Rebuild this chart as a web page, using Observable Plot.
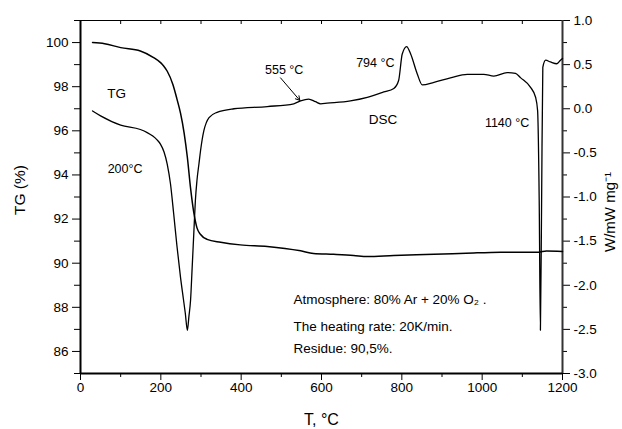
<!DOCTYPE html>
<html>
<head>
<meta charset="utf-8">
<script src="https://cdn.jsdelivr.net/npm/d3@7"></script>
<script src="https://cdn.jsdelivr.net/npm/@observablehq/plot@0.6"></script>
<style>
  html, body { margin: 0; padding: 0; background: #fff; }
</style>
</head>
<body>
<div id="chart"></div>
<script>
// ---- TG curve (left axis, %) ----
const tgT = [30, 60, 100, 149, 182, 200, 207, 216, 230, 240, 249, 258, 266, 274, 282, 290, 299, 315, 349, 398, 465, 548, 580, 630, 680, 714, 780, 880, 960, 1046, 1100, 1140, 1160, 1200];
const tgV = [100.0, 99.95, 99.77, 99.62, 99.32, 99.08, 98.94, 98.7, 98.1, 97.45, 96.8, 95.9, 94.8, 93.4, 92.3, 91.6, 91.3, 91.08, 90.95, 90.83, 90.76, 90.56, 90.44, 90.4, 90.35, 90.3, 90.35, 90.4, 90.45, 90.5, 90.5, 90.5, 90.55, 90.53];

// ---- DSC curve (right axis, W/mW mg^-1) ----
const dscT = [30, 50, 100, 149, 166, 180, 190, 199, 208, 216, 224, 232, 240, 249, 256, 261, 266, 270, 274, 278, 282, 286, 290, 295, 299, 307, 313, 320, 340, 382, 465, 531, 548, 568, 585, 598, 614, 672, 714, 755, 780, 792, 801, 812, 822, 838, 851, 880, 921, 963, 1004, 1029, 1062, 1083, 1096, 1120, 1133, 1138, 1142, 1145, 1148, 1151, 1158, 1170, 1186, 1195, 1200];
const dscV = [-0.025, -0.08, -0.185, -0.235, -0.27, -0.31, -0.35, -0.40, -0.49, -0.63, -0.85, -1.19, -1.55, -1.91, -2.15, -2.32, -2.51, -2.35, -2.17, -1.80, -1.42, -1.04, -0.81, -0.62, -0.47, -0.25, -0.16, -0.10, -0.04, 0.0, 0.025, 0.056, 0.09, 0.11, 0.08, 0.056, 0.063, 0.09, 0.13, 0.19, 0.23, 0.32, 0.62, 0.705, 0.62, 0.40, 0.27, 0.30, 0.35, 0.39, 0.39, 0.37, 0.41, 0.40, 0.35, 0.245, 0.13, -0.02, -1.04, -2.51, -1.04, 0.47, 0.55, 0.53, 0.51, 0.55, 0.57];

// ---- axes ----
const xTicks = [0, 200, 400, 600, 800, 1000, 1200];
const xMinor = [100, 300, 500, 700, 900, 1100];
const xAll = [0, 100, 200, 300, 400, 500, 600, 700, 800, 900, 1000, 1100, 1200];
const leftTicks = [86, 88, 90, 92, 94, 96, 98, 100];
const leftMinor = [85, 87, 89, 91, 93, 95, 97, 99, 101];
const rightTicks = [-3.0, -2.5, -2.0, -1.5, -1.0, -0.5, 0.0, 0.5, 1.0];
const rightMinor = [-2.75, -2.25, -1.75, -1.25, -0.75, -0.25, 0.25, 0.75];
const leftDomain = [85, 101];
const rightDomain = [-3, 1];

// ---- labels ----
const xLabel = "T, °C";
const leftLabel = "TG (%)";
const rightLabel = "W/mW mg⁻¹";
const curveLabels = [
  {text: "TG", x: 90, y: 97.67, size: 13.5},
  {text: "200°C", x: 111, y: 94.26, size: 12.5},
  {text: "555 °C", x: 507, y: 98.76, size: 12.5},
  {text: "794 °C", x: 734, y: 99.08, size: 12.5},
  {text: "DSC", x: 753, y: 96.49, size: 13.5},
  {text: "1140 °C", x: 1062, y: 96.35, size: 12.5}
];
const noteLines = [
  {text: "Atmosphere: 80% Ar + 20% O₂ .", x: 530, y: 88.35},
  {text: "The heating rate: 20K/min.", x: 530, y: 87.12},
  {text: "Residue: 90,5%.", x: 530, y: 86.12}
];
const arrow555 = [{x1: 498, y1: 98.4, x2: 546, y2: 97.38}];

// map right-axis values into the left (shared) y scale
const toLeft = v => leftDomain[0] + (v - rightDomain[0]) * (leftDomain[1] - leftDomain[0]) / (rightDomain[1] - rightDomain[0]);
const fromLeft = y => rightDomain[0] + (y - leftDomain[0]) * (rightDomain[1] - rightDomain[0]) / (leftDomain[1] - leftDomain[0]);

const tg = tgT.map((t, i) => ({t, v: tgV[i]}));
const dsc = dscT.map((t, i) => ({t, v: toLeft(dscV[i])}));

const blank = () => "";
const font = "'Liberation Sans', Arial, Helvetica, sans-serif";

const chart = Plot.plot({
  width: 622,
  height: 429,
  marginLeft: 80,
  marginRight: 60,
  marginTop: 20,
  marginBottom: 56,
  style: {fontFamily: font, fontSize: "13.5px", color: "black", background: "white"},
  x: {domain: [0, 1200]},
  y: {domain: leftDomain},
  marks: [
    // bottom axis
    Plot.axisX({ticks: xTicks, tickSize: 7, tickPadding: 2, tickFormat: d => String(d), label: null, fontSize: 13.5}),
    Plot.axisX({ticks: xMinor, tickSize: 4, tickFormat: blank, label: null}),
    // top mirror ticks (inward)
    Plot.axisX({anchor: "top", ticks: xAll, tickSize: -3, tickFormat: blank, label: null}),
    // left axis
    Plot.axisY({ticks: leftTicks, tickSize: 8, tickPadding: 4, tickFormat: d => String(d), label: null, fontSize: 13.5}),
    Plot.axisY({ticks: leftMinor, tickSize: 6, tickFormat: blank, label: null}),
    // right axis
    Plot.axisY({anchor: "right", ticks: rightTicks.map(toLeft), tickSize: 7, tickPadding: 4,
      tickFormat: d => fromLeft(d).toFixed(1), label: null, fontSize: 13.5}),
    Plot.axisY({anchor: "right", ticks: rightMinor.map(toLeft), tickSize: 4, tickFormat: blank, label: null}),
    // frame
    Plot.ruleY([leftDomain[1]], {stroke: "black", strokeWidth: 1.2}),
    Plot.ruleX([1200], {stroke: "#333", strokeWidth: 2}),
    Plot.ruleX([0], {stroke: "black", strokeWidth: 2}),
    Plot.ruleY([leftDomain[0]], {stroke: "black", strokeWidth: 2}),
    // curves
    Plot.line(tg, {x: "t", y: "v", stroke: "black", strokeWidth: 1.5, curve: "monotone-x"}),
    Plot.line(dsc, {x: "t", y: "v", stroke: "black", strokeWidth: 1.3, curve: "monotone-x"}),
    // arrow
    Plot.arrow(arrow555, {x1: "x1", y1: "y1", x2: "x2", y2: "y2", stroke: "black", strokeWidth: 1, headLength: 7}),
    // labels in plot
    Plot.text(curveLabels, {x: "x", y: "y", text: "text", fontSize: d => d.size, fill: "black"}),
    Plot.text(noteLines, {x: "x", y: "y", text: "text", textAnchor: "start", fontSize: 13.5, fill: "black"}),
    // axis titles
    Plot.text([xLabel], {frameAnchor: "bottom", textAnchor: "middle", lineAnchor: "middle", dy: 46, fontSize: 16, fill: "black"}),
    Plot.text([leftLabel], {frameAnchor: "left", textAnchor: "middle", lineAnchor: "middle", dx: -60, dy: -7, rotate: -90, fontSize: 15.5, fill: "black"}),
    Plot.text([rightLabel], {frameAnchor: "right", textAnchor: "middle", lineAnchor: "middle", dx: 48, dy: 15, rotate: -90, fontSize: 15, fill: "black"})
  ]
});
document.getElementById("chart").appendChild(chart);
</script>
</body>
</html>
